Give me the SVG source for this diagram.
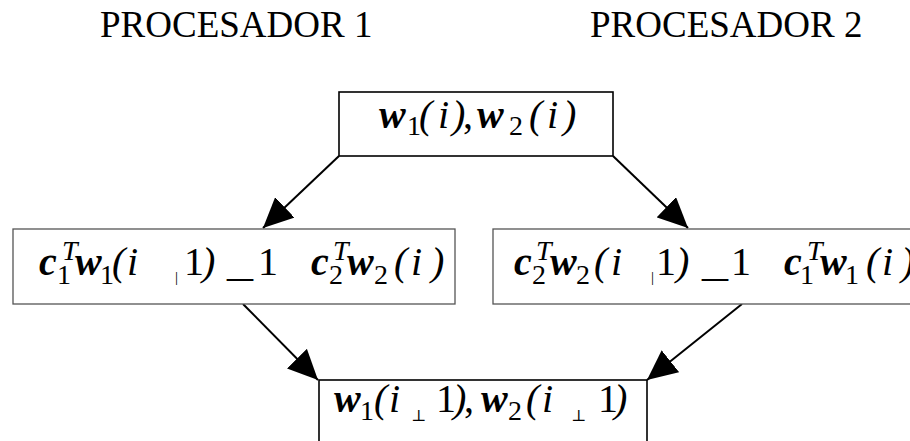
<svg xmlns="http://www.w3.org/2000/svg" width="910" height="441" viewBox="0 0 910 441">
<defs>
<marker id="ah" viewBox="0 -14 30 28" refX="30" refY="0" markerWidth="30" markerHeight="28" markerUnits="userSpaceOnUse" orient="auto">
<path d="M0,-14 L30,0 L0,14 z" fill="#000"/>
</marker>
<style>
.h{font-family:"Liberation Serif",serif;font-size:37px;fill:#000}
.m{font-family:"Liberation Serif","DejaVu Serif",serif;font-size:40px;fill:#000}
.bi{font-weight:bold;font-style:italic}
.it{font-style:italic}
.s{font-size:28px}
.tk{font-size:15px;fill:#000}
.pp{font-size:16px;fill:#000}
.box{fill:#fff;stroke:#000;stroke-width:1.6}
.gbox{fill:#fff;stroke:#555;stroke-width:1.3}
.con line{stroke:#000;stroke-width:2;marker-end:url(#ah)}
</style>
</defs>
<rect width="910" height="441" fill="#fff"/>
<g id="headings">
<text class="h" x="100" y="37">PROCESADOR 1</text>
<text class="h" x="590" y="37">PROCESADOR 2</text>
</g>
<g id="connectors" class="con">
<line x1="339" y1="156" x2="263" y2="228"/>
<line x1="613" y1="156" x2="688" y2="228"/>
<line x1="243" y1="304" x2="318" y2="380"/>
<line x1="742" y1="304" x2="647" y2="380"/>
</g>
<g id="node-top">
<rect class="box" x="339" y="92" width="274" height="64"/>
<text class="m" y="128"><tspan class="bi" x="379">w</tspan><tspan class="s" x="407" y="135">1</tspan><tspan class="it" x="419" y="128">(</tspan><tspan class="it" x="438">i</tspan><tspan class="it" x="452">)</tspan><tspan x="463">,</tspan><tspan class="bi" x="477">w</tspan><tspan class="s" x="509" y="135">2</tspan><tspan class="it" x="529" y="128">(</tspan><tspan class="it" x="547">i</tspan><tspan class="it" x="563">)</tspan></text>
</g>
<g id="node-left">
<rect class="gbox" x="13" y="229" width="442" height="75"/>
<text class="m" y="275"><tspan class="bi" x="39">c</tspan><tspan class="s it" x="62" y="260">T</tspan><tspan class="s" x="57" y="284">1</tspan><tspan class="bi" x="75" y="275">w</tspan><tspan class="s" x="100" y="284">1</tspan><tspan class="it" x="112" y="275">(</tspan><tspan class="it" x="127">i</tspan><tspan class="tk" x="175" y="282">|</tspan><tspan x="184" y="275">1</tspan><tspan class="it" x="202">)</tspan><tspan x="258">1</tspan><tspan class="bi" x="311">c</tspan><tspan class="s it" x="333" y="260">T</tspan><tspan class="s" x="329" y="284">2</tspan><tspan class="bi" x="347" y="275">w</tspan><tspan class="s" x="374" y="284">2</tspan><tspan class="it" x="394" y="275">(</tspan><tspan class="it" x="411">i</tspan><tspan class="it" x="431">)</tspan></text>
<text class="m" x="227" y="276" textLength="26" lengthAdjust="spacingAndGlyphs">_</text>
</g>
<g id="node-right">
<rect class="gbox" x="493" y="229" width="430" height="75"/>
<text class="m" y="275"><tspan class="bi" x="514">c</tspan><tspan class="s it" x="536" y="260">T</tspan><tspan class="s" x="532" y="284">2</tspan><tspan class="bi" x="550" y="275">w</tspan><tspan class="s" x="576" y="284">2</tspan><tspan class="it" x="594" y="275">(</tspan><tspan class="it" x="611">i</tspan><tspan class="tk" x="651" y="282">|</tspan><tspan x="656" y="275">1</tspan><tspan class="it" x="676">)</tspan><tspan x="731">1</tspan><tspan class="bi" x="784">c</tspan><tspan class="s it" x="807" y="260">T</tspan><tspan class="s" x="800" y="284">1</tspan><tspan class="bi" x="820" y="275">w</tspan><tspan class="s" x="845" y="284">1</tspan><tspan class="it" x="866" y="275">(</tspan><tspan class="it" x="882">i</tspan><tspan class="it" x="901">)</tspan></text>
<text class="m" x="702" y="276" textLength="26" lengthAdjust="spacingAndGlyphs">_</text>
</g>
<g id="node-bottom">
<rect class="box" x="319" y="380" width="328" height="80"/>
<text class="m" y="412"><tspan class="bi" x="334">w</tspan><tspan class="s" x="360" y="420">1</tspan><tspan class="it" x="374" y="412">(</tspan><tspan class="it" x="389">i</tspan><tspan class="pp" x="411" y="421">⊥</tspan><tspan x="436" y="412">1</tspan><tspan class="it" x="453">)</tspan><tspan x="464">,</tspan><tspan class="bi" x="481">w</tspan><tspan class="s" x="508" y="420">2</tspan><tspan class="it" x="526" y="412">(</tspan><tspan class="it" x="542">i</tspan><tspan class="pp" x="571" y="421">⊥</tspan><tspan x="598" y="412">1</tspan><tspan class="it" x="614">)</tspan></text>
</g>
</svg>
